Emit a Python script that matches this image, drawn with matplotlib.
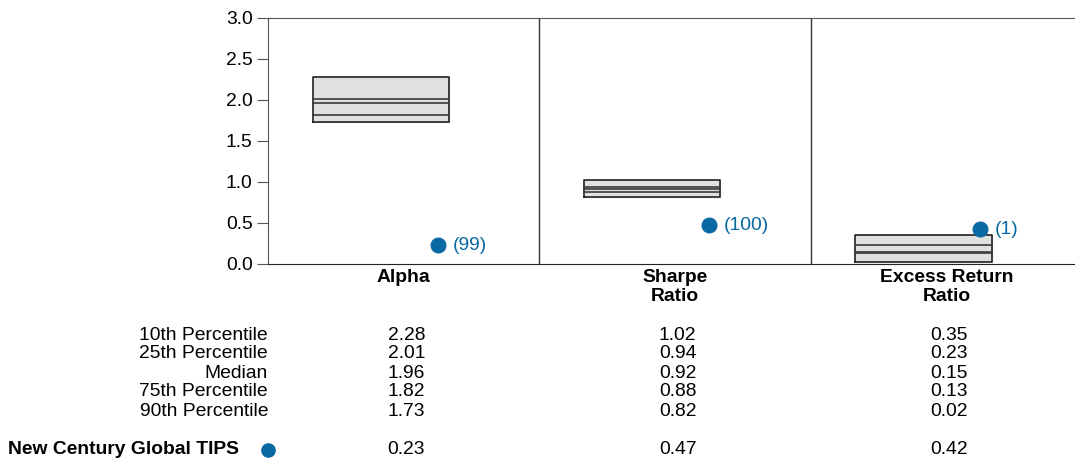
import numpy as np
import matplotlib.pyplot as plt
import matplotlib.transforms as mtransforms

plt.rcParams['font.family'] = ['Liberation Sans', 'DejaVu Sans']

# data
metrics = ['Alpha', 'Sharpe\nRatio', 'Excess Return\nRatio']
row_names = ['10th Percentile', '25th Percentile', 'Median', '75th Percentile', '90th Percentile']
p10 = [2.28, 1.02, 0.35]
p25 = [2.01, 0.94, 0.23]
med = [1.96, 0.92, 0.15]
p75 = [1.82, 0.88, 0.13]
p90 = [1.73, 0.82, 0.02]
fund_name = 'New Century Global TIPS'
fund_vals = [0.23, 0.47, 0.42]
fund_ranks = [99, 100, 1]

blue = '#0a68a3'
box_fill = '#e0e0e0'
fs = 13.9

fig = plt.figure(figsize=(10.75, 4.59), dpi=100)
ax = fig.add_axes([268 / 1075, 0.425, 814 / 1075, 0.5358])
ax.set_xlim(0, 3)
ax.set_ylim(0, 3)

for i in range(3):
    x0, x1 = i + 0.165, i + 0.667
    ax.fill_between([x0, x1], p90[i], p10[i], color=box_fill, zorder=2)
    ax.plot([x0, x1, x1, x0, x0], [p90[i], p90[i], p10[i], p10[i], p90[i]],
            color='#222222', lw=1.2, zorder=3)
    for v in (p25[i], med[i], p75[i]):
        ax.plot([x0, x1], [v, v], color='#3a3a3a', lw=1.2, zorder=3)
    ax.plot(i + 0.625, fund_vals[i], 'o', color=blue, ms=10.5, zorder=4)
    ax.text(i + 0.68, fund_vals[i], '(%d)' % fund_ranks[i], color=blue,
            fontsize=fs, va='center', ha='left')

for xs in (1, 2):
    ax.axvline(xs, color='#333333', lw=1.0)

ax.spines['right'].set_visible(False)
ax.spines['top'].set_color('#555555')
ax.spines['left'].set_color('#555555')
ax.spines['bottom'].set_color('#222222')
ax.set_yticks(np.arange(0, 3.01, 0.5))
ax.set_yticklabels(['%.1f' % v for v in np.arange(0, 3.01, 0.5)], fontsize=fs)
ax.tick_params(axis='y', length=8, color='#555555', pad=3)
ax.set_xticks([])

# category labels and the table below
trans = mtransforms.blended_transform_factory(ax.transData, fig.transFigure)
for i, m in enumerate(metrics):
    fig.text(i + 0.5, 1 - 269 / 459, m, transform=trans, ha='center', va='top',
             fontsize=fs, fontweight='bold', linespacing=1.12)

table = [p10, p25, med, p75, p90]
for r, name in enumerate(row_names):
    y = 1 - (335 + 19 * r) / 459
    fig.text(268 / 1075, y, name, ha='right', va='center', fontsize=fs)
    for i in range(3):
        fig.text(i + 0.51, y, '%.2f' % table[r][i], transform=trans,
                 ha='center', va='center', fontsize=fs)

y = 1 - 450 / 459
fig.text(8 / 1075, y, fund_name, ha='left', va='center', fontsize=fs, fontweight='bold')
fig.lines.append(plt.Line2D([268 / 1075], [y], marker='o', color=blue, ms=9.5,
                            transform=fig.transFigure))
for i in range(3):
    fig.text(i + 0.51, y, '%.2f' % fund_vals[i], transform=trans,
             ha='center', va='center', fontsize=fs)

fig.savefig('out.png', dpi=100)
